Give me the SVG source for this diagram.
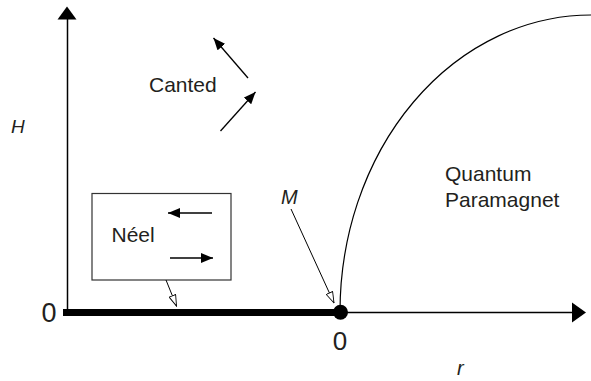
<svg xmlns="http://www.w3.org/2000/svg" width="591" height="381" viewBox="0 0 591 381">
<defs>
<style>
text{font-family:"Liberation Sans",Arial,sans-serif;fill:#231f20}
.it{font-style:italic}
.ln{stroke:#000;fill:none}
</style>
<marker id="fa" viewBox="0 0 12 10" refX="12" refY="5" markerWidth="12" markerHeight="10" markerUnits="userSpaceOnUse" orient="auto"><path d="M0,0L12,5L0,10z" fill="#000"/></marker>
<marker id="oa" viewBox="0 0 12 8" refX="11.5" refY="4" markerWidth="12" markerHeight="8" markerUnits="userSpaceOnUse" orient="auto"><path d="M0.5,0.5L11.5,4L0.5,7.5z" fill="#fff" stroke="#000" stroke-width="0.9"/></marker>
</defs>
<rect width="591" height="381" fill="#fff"/>
<g id="axes">
<line class="ln" x1="67.5" y1="312" x2="67.5" y2="18" stroke-width="1.5"/>
<path d="M57.5,19.5L67,6.5L76.5,19.5z" fill="#000"/>
<line class="ln" x1="340" y1="312.5" x2="573" y2="312.5" stroke-width="1.5"/>
<path d="M572,302.5L586,312.5L572,322.5z" fill="#000"/>
<line class="ln" x1="63" y1="312.5" x2="340" y2="312.5" stroke-width="7"/>
<circle cx="340.5" cy="312.3" r="7.5" fill="#000"/>
</g>
<g id="boundary">
<path class="ln" d="M340,312 A251,297 0 0 1 591,15" stroke-width="1.2"/>
</g>
<g id="neel">
<rect x="92" y="193.5" width="139" height="86.5" fill="none" stroke="#333" stroke-width="1.2"/>
<text x="111.5" y="242" font-size="21">Néel</text>
<line class="ln" x1="212" y1="213" x2="168" y2="213" stroke-width="1.3" marker-end="url(#fa)"/>
<line class="ln" x1="170" y1="258" x2="213" y2="258" stroke-width="1.3" marker-end="url(#fa)"/>
</g>
<g id="canted">
<text x="149" y="92" font-size="21">Canted</text>
<line class="ln" x1="248" y1="78" x2="213.5" y2="38" stroke-width="1.3" marker-end="url(#fa)"/>
<line class="ln" x1="220.5" y1="131" x2="255.5" y2="92" stroke-width="1.3" marker-end="url(#fa)"/>
</g>
<g id="paramagnet">
<text x="445" y="181" font-size="21">Quantum</text>
<text x="445" y="207" font-size="21">Paramagnet</text>
</g>
<g id="connectors">
<line class="ln" x1="166" y1="280" x2="176.5" y2="306" stroke-width="1" marker-end="url(#oa)"/>
<line class="ln" x1="291" y1="209" x2="334" y2="303" stroke-width="1" marker-end="url(#oa)"/>
</g>
<g id="labels">
<text class="it" x="11" y="133" font-size="19">H</text>
<text class="it" x="281" y="204" font-size="20">M</text>
<text x="49" y="322" font-size="27" text-anchor="middle">0</text>
<text x="340" y="350" font-size="26" text-anchor="middle">0</text>
<text class="it" x="457" y="375" font-size="20">r</text>
</g>
</svg>
